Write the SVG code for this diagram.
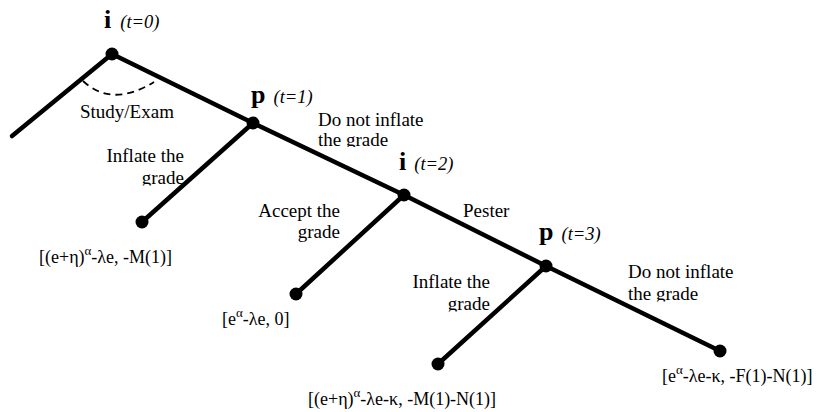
<svg xmlns="http://www.w3.org/2000/svg" width="820" height="412" viewBox="0 0 820 412">
<defs>
<clipPath id="c1"><rect x="300" y="100" width="140" height="47"/></clipPath>
<clipPath id="c2"><rect x="90" y="140" width="110" height="45.5"/></clipPath>
<clipPath id="c3"><rect x="400" y="260" width="100" height="51.5"/></clipPath>
<clipPath id="c4"><rect x="610" y="255" width="140" height="46.5"/></clipPath>
</defs>
<style>
.e{stroke:#000;stroke-width:4.5;stroke-linecap:round;fill:none}
.d{fill:#000}
text{font-family:"Liberation Serif","Times New Roman",serif;font-size:19px;fill:#000}
.b{font-weight:bold;font-size:26px}
.t{font-style:italic;font-size:18.5px}
.r{text-anchor:end}
.s{font-size:13px}
.pay{font-size:18px}
</style>
<rect width="820" height="412" fill="#fff"/>
<g id="connectors">
<line class="e" x1="112" y1="54" x2="12" y2="136"/>
<line class="e" x1="112" y1="54" x2="253" y2="123"/>
<line class="e" x1="253" y1="123" x2="142" y2="222"/>
<line class="e" x1="253" y1="123" x2="404" y2="195"/>
<line class="e" x1="404" y1="195" x2="296" y2="294"/>
<line class="e" x1="404" y1="195" x2="546" y2="266"/>
<line class="e" x1="546" y1="266" x2="438" y2="364"/>
<line class="e" x1="546" y1="266" x2="720" y2="351"/>
<path d="M83,81 Q112,108 154,82" fill="none" stroke="#000" stroke-width="1.8" stroke-dasharray="7,5"/>
<text x="80" y="118">Study/Exam</text>
<g clip-path="url(#c2)">
<text class="r" x="184" y="162">Inflate the</text>
<text class="r" x="184" y="184">grade</text>
</g>
<g clip-path="url(#c1)">
<text x="318" y="126">Do not inflate</text>
<text x="318" y="146">the grade</text>
</g>
<text class="r" x="340" y="217">Accept the</text>
<text class="r" x="340" y="238">grade</text>
<text x="463" y="217">Pester</text>
<g clip-path="url(#c3)">
<text class="r" x="490" y="288">Inflate the</text>
<text class="r" x="490" y="310">grade</text>
</g>
<g clip-path="url(#c4)">
<text x="628" y="278">Do not inflate</text>
<text x="628" y="300">the grade</text>
</g>
</g>
<g id="n_i0">
<circle class="d" cx="112" cy="54" r="6.5"/>
<text x="104" y="28"><tspan class="b">i</tspan><tspan class="t" dx="9">(t=0)</tspan></text>
</g>
<g id="n_p1">
<circle class="d" cx="253" cy="123" r="6.5"/>
<text x="251" y="103"><tspan class="b">p</tspan><tspan class="t" dx="8">(t=1)</tspan></text>
</g>
<g id="n_i2">
<circle class="d" cx="404" cy="195" r="6.5"/>
<text x="399" y="170"><tspan class="b">i</tspan><tspan class="t" dx="8">(t=2)</tspan></text>
</g>
<g id="n_p3">
<circle class="d" cx="546" cy="266" r="6.5"/>
<text x="539" y="240"><tspan class="b">p</tspan><tspan class="t" dx="8">(t=3)</tspan></text>
</g>
<g id="leaf1">
<circle class="d" cx="142" cy="222" r="6.5"/>
<text class="pay" x="39" y="263">[(e+η)<tspan class="s" dy="-8">α</tspan><tspan dy="8">-λe, -M(1)]</tspan></text>
</g>
<g id="leaf2">
<circle class="d" cx="296" cy="294" r="6.5"/>
<text class="pay" x="222" y="325">[e<tspan class="s" dy="-8">α</tspan><tspan dy="8">-λe, 0]</tspan></text>
</g>
<g id="leaf3">
<circle class="d" cx="438" cy="364" r="6.5"/>
<text class="pay" x="308" y="405">[(e+η)<tspan class="s" dy="-8">α</tspan><tspan dy="8">-λe-κ, -M(1)-N(1)]</tspan></text>
</g>
<g id="leaf4">
<circle class="d" cx="720" cy="351" r="6.5"/>
<text class="pay" x="662" y="382">[e<tspan class="s" dy="-8">α</tspan><tspan dy="8">-λe-κ, -F(1)-N(1)]</tspan></text>
</g>
</svg>
